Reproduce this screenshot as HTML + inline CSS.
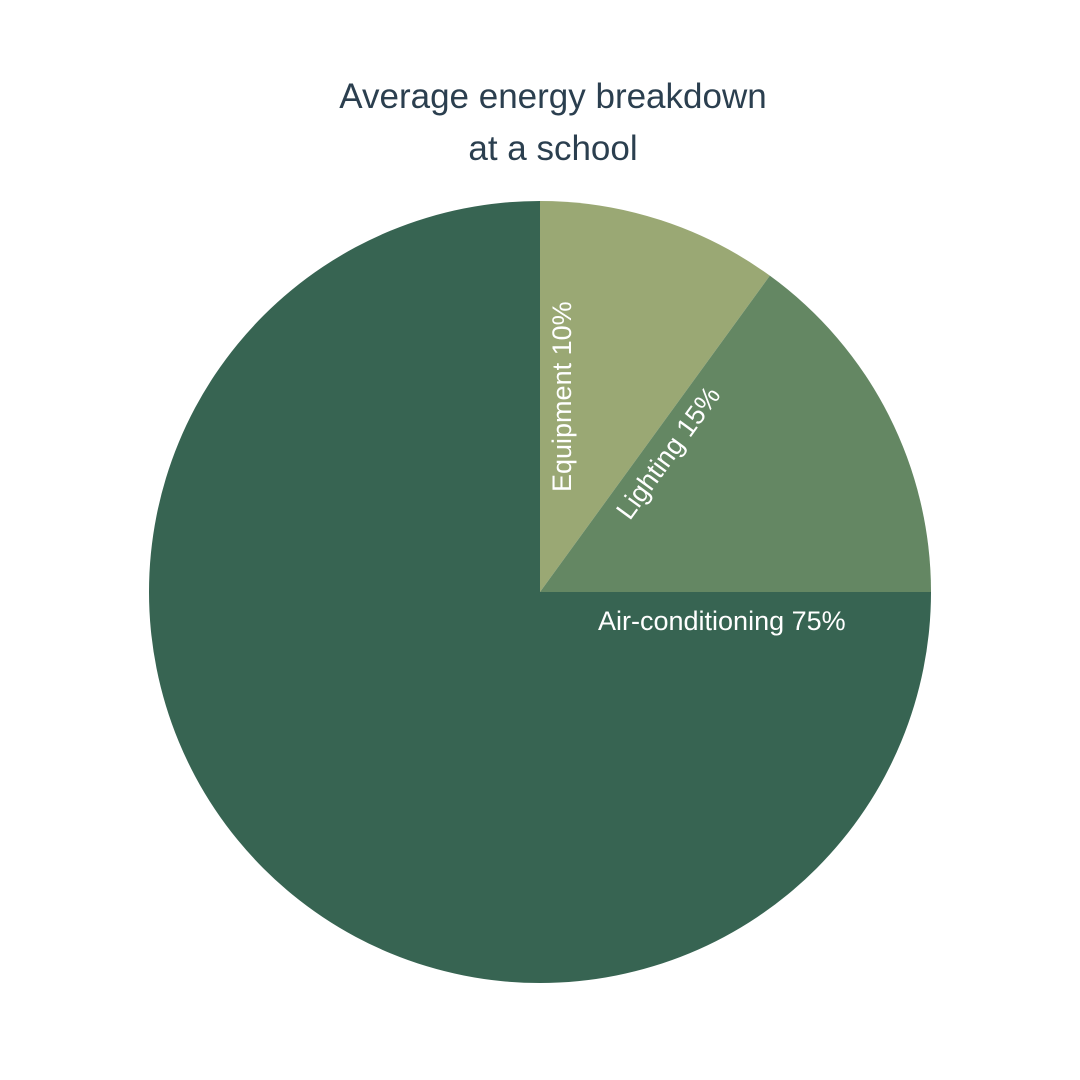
<!DOCTYPE html>
<html>
<head>
<meta charset="utf-8">
<style>
  html, body { margin: 0; padding: 0; background: #ffffff; }
  #chart { width: 1080px; height: 1080px; display: block; }
  text { font-family: "Liberation Sans", "DejaVu Sans", sans-serif; }
</style>
</head>
<body>
<svg id="chart" width="1080" height="1080" viewBox="0 0 1080 1080">
  <text x="553" y="108" text-anchor="middle" font-size="35" fill="#2b3f4f">Average energy breakdown</text>
  <text x="553" y="160" text-anchor="middle" font-size="35" fill="#2b3f4f">at a school</text>
  <g id="slices"></g>
  <g id="labels"></g>
</svg>
<script>
const categories = ["Equipment", "Lighting", "Air-conditioning"];
const values = [10, 15, 75];
const colors = ["#9aa874", "#648763", "#376452"];

const cx = 540, cy = 592, r = 391;
const NS = "http://www.w3.org/2000/svg";
const total = values.reduce((a, b) => a + b, 0);
const slicesG = document.getElementById("slices");
const labelsG = document.getElementById("labels");

function pt(angleDeg, dist) {
  const a = angleDeg * Math.PI / 180;
  return [cx + dist * Math.sin(a), cy - dist * Math.cos(a)];
}

let start = 0;
values.forEach((v, i) => {
  const sweep = v / total * 360;
  const end = start + sweep;
  const [x0, y0] = pt(start, r);
  const [x1, y1] = pt(end, r);
  const large = sweep > 180 ? 1 : 0;
  const path = document.createElementNS(NS, "path");
  path.setAttribute("d", `M${cx},${cy} L${x0},${y0} A${r},${r} 0 ${large} 1 ${x1},${y1} Z`);
  path.setAttribute("fill", colors[i]);
  
  
  slicesG.appendChild(path);

  // label along the starting edge of the slice
  const dist = sweep > 180 ? 58 : (i === 0 ? 100 : 110);
  const off = sweep > 180 ? 29 : 22;
  const [bx, by] = pt(start, dist);
  const a = start * Math.PI / 180;
  const lx = bx + off * Math.cos(a);
  const ly = by + off * Math.sin(a);
  const t = document.createElementNS(NS, "text");
  t.setAttribute("x", lx);
  t.setAttribute("y", ly);
  t.setAttribute("font-size", "27");
  t.setAttribute("fill", "#ffffff");
  t.setAttribute("dominant-baseline", "central");
  t.setAttribute("text-anchor", "start");
  t.setAttribute("transform", `rotate(${start - 90} ${lx} ${ly})`);
  t.textContent = categories[i] + " " + v + "%";
  
  
  labelsG.appendChild(t);

  start = end;
});
</script>
</body>
</html>
